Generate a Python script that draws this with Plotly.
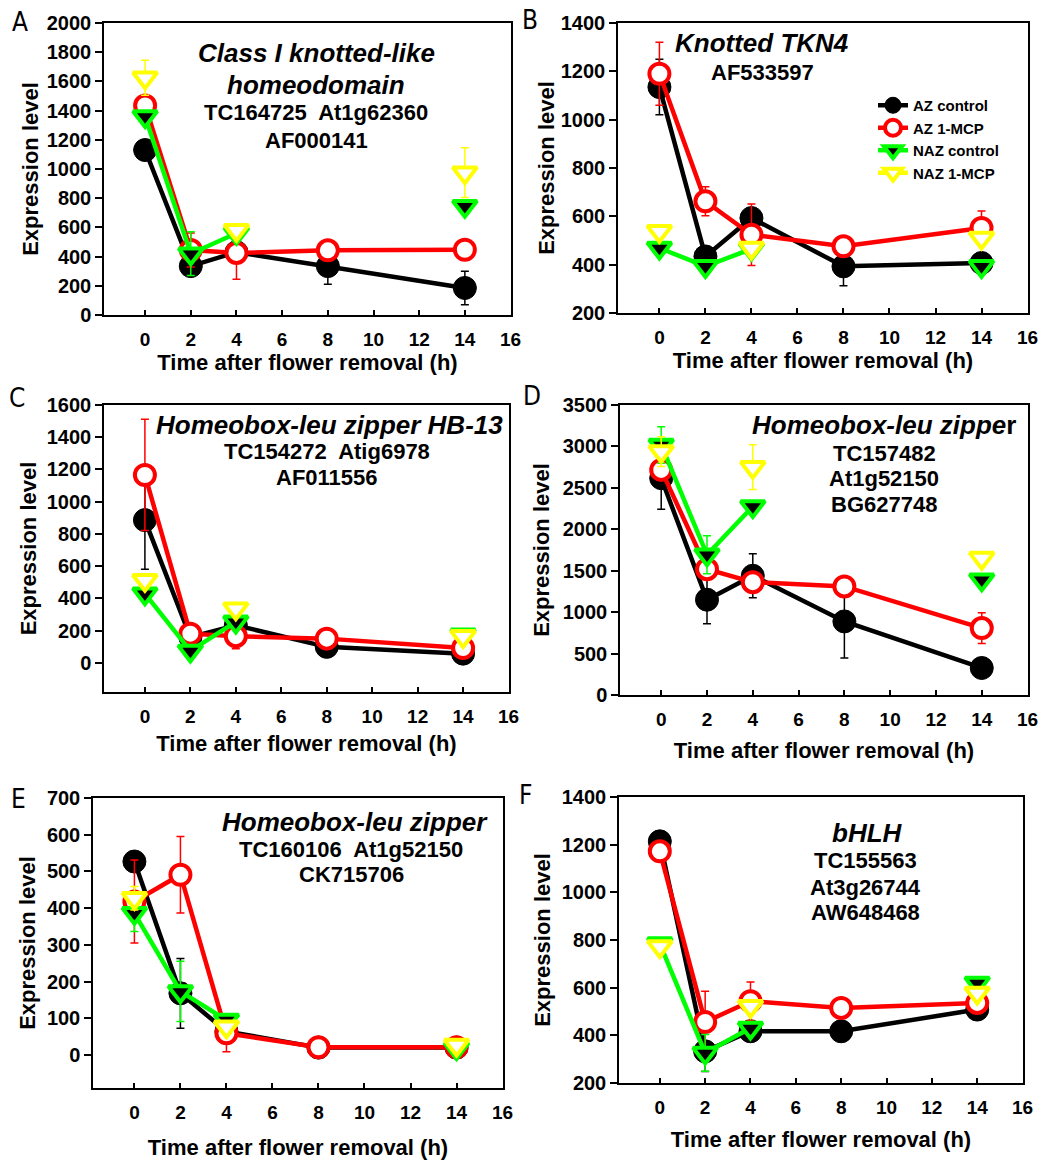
import plotly.graph_objects as go

W, H = 1049, 1160

hours = [0, 2, 4, 8, 14]
x_ticks = [0, 2, 4, 6, 8, 10, 12, 14, 16]

# ---- Panel A: Class I knotted-like homeodomain ----
a_az_control = [1130, 335, 430, 335, 185]
a_az_control_sd = [None, None, None, 125, 115]
a_az_mcp = [1435, 445, 425, 443, 447]
a_az_mcp_sd = [None, 117, 180, None, None]
a_naz_control = [1360, 420, 560, None, 745]
a_naz_control_sd = [None, 150, None, None, None]
a_naz_mcp = [1625, None, 580, None, 975]
a_naz_mcp_sd = [120, None, None, None, 170]

# ---- Panel B: Knotted TKN4 ----
b_az_control = [1135, 434, 593, 393, 407]
b_az_control_sd = [115, None, None, 80, None]
b_az_mcp = [1190, 662, 524, 476, 552]
b_az_mcp_sd = [130, 60, 127, None, 70]
b_naz_control = [469, 393, 465, None, 393]
b_naz_control_sd = [None, None, None, None, None]
b_naz_mcp = [538, None, 469, None, 510]
b_naz_mcp_sd = [None, None, None, None, None]

# ---- Panel C: Homeobox-leu zipper HB-13 ----
c_az_control = [886, 160, 234, 100, 58]
c_az_control_sd = [305, None, None, None, None]
c_az_mcp = [1166, 182, 166, 151, 93]
c_az_mcp_sd = [345, None, 77, None, None]
c_naz_control = [430, 75, 255, None, 175]
c_naz_control_sd = [None, None, None, None, None]
c_naz_mcp = [513, None, 337, None, 165]
c_naz_mcp_sd = [None, None, None, None, None]

# ---- Panel D: Homeobox-leu zipper (TC157482) ----
d_az_control = [2617, 1150, 1439, 888, 326]
d_az_control_sd = [375, 290, 265, 440, None]
d_az_mcp = [2717, 1519, 1362, 1310, 808]
d_az_mcp_sd = [None, None, None, None, 185]
d_naz_control = [3018, 1692, 2275, None, 1391]
d_naz_control_sd = [220, 230, None, None, None]
d_naz_mcp = [2938, None, 2749, None, 1652]
d_naz_mcp_sd = [180, None, 270, None, None]

# ---- Panel E: Homeobox-leu zipper (TC160106) ----
e_az_control = [527, 168, 64, 20, 20]
e_az_control_sd = [None, 95, None, None, None]
e_az_mcp = [418, 491, 59, 21, 21]
e_az_mcp_sd = [113, 104, 50, None, None]
e_naz_control = [386, 173, 95, None, 18]
e_naz_control_sd = [50, 82, None, None, None]
e_naz_mcp = [427, None, 77, None, 27]
e_naz_mcp_sd = [32, None, None, None, None]

# ---- Panel F: bHLH ----
f_az_control = [1214, 333, 417, 417, 508]
f_az_control_sd = [None, 85, None, None, None]
f_az_mcp = [1172, 456, 543, 515, 536]
f_az_mcp_sd = [None, 129, 81, None, None]
f_naz_control = [785, 326, 431, None, 620]
f_naz_control_sd = [None, 77, None, None, None]
f_naz_mcp = [773, None, 522, None, 578]
f_naz_mcp_sd = [None, None, None, None, None]

series_names = ["AZ control", "AZ 1-MCP", "NAZ control", "NAZ 1-MCP"]

y_ranges = {
    1: ([0, 2000], list(range(0, 2001, 200))),
    2: ([200, 1400], list(range(200, 1401, 200))),
    3: ([-180, 1600], list(range(0, 1601, 200))),
    4: ([0, 3500], list(range(0, 3501, 500))),
    5: ([-90, 700], list(range(0, 701, 100))),
    6: ([200, 1400], list(range(200, 1401, 200))),
}

panel_data = {
    1: [(a_az_control, a_az_control_sd), (a_az_mcp, a_az_mcp_sd),
        (a_naz_control, a_naz_control_sd), (a_naz_mcp, a_naz_mcp_sd)],
    2: [(b_az_control, b_az_control_sd), (b_az_mcp, b_az_mcp_sd),
        (b_naz_control, b_naz_control_sd), (b_naz_mcp, b_naz_mcp_sd)],
    3: [(c_az_control, c_az_control_sd), (c_az_mcp, c_az_mcp_sd),
        (c_naz_control, c_naz_control_sd), (c_naz_mcp, c_naz_mcp_sd)],
    4: [(d_az_control, d_az_control_sd), (d_az_mcp, d_az_mcp_sd),
        (d_naz_control, d_naz_control_sd), (d_naz_mcp, d_naz_mcp_sd)],
    5: [(e_az_control, e_az_control_sd), (e_az_mcp, e_az_mcp_sd),
        (e_naz_control, e_naz_control_sd), (e_naz_mcp, e_naz_mcp_sd)],
    6: [(f_az_control, f_az_control_sd), (f_az_mcp, f_az_mcp_sd),
        (f_naz_control, f_naz_control_sd), (f_naz_mcp, f_naz_mcp_sd)],
}

# plot frames in pixels: (left, right, top, bottom)
frames = {
    1: (104, 511, 23, 315),
    2: (618, 1028, 23, 313),
    3: (104, 509, 405, 692),
    4: (620, 1028, 405, 695),
    5: (93, 503, 798, 1088),
    6: (619, 1023, 797, 1083),
}
x_title_standoff = {1: 4, 2: 4, 3: 10, 4: 14, 5: 24, 6: 15}
y_title_standoff = {1: 2, 2: 0, 3: 4, 4: 7, 5: 5, 6: 5}

# marker / line styles for the four series
styles = [
    dict(symbol="circle", size=23, fill="black", edge="black", edge_w=1, line="black"),
    dict(symbol="circle", size=20, fill="white", edge="#ff0000", edge_w=4, line="#ff0000"),
    dict(symbol="triangle-down", size=21, fill="black", edge="#00ff00", edge_w=4, line="#00ff00"),
    dict(symbol="triangle-down", size=21, fill="white", edge="#ffff00", edge_w=4, line="#ffff00"),
]

FONT = "Liberation Sans, Arial, Helvetica, sans-serif"

fig = go.Figure()

for p in range(1, 7):
    xa = "x" if p == 1 else f"x{p}"
    ya = "y" if p == 1 else f"y{p}"
    for k, (vals, sd) in enumerate(panel_data[p]):
        st = styles[k]
        fig.add_trace(go.Scatter(
            x=hours, y=vals, xaxis=xa, yaxis=ya,
            mode="lines+markers", name=series_names[k],
            showlegend=(p == 1), legendgroup=series_names[k],
            connectgaps=False,
            line=dict(color=st["line"], width=4.5),
            marker=dict(symbol=st["symbol"], size=st["size"], color=st["fill"],
                        line=dict(color=st["edge"], width=st["edge_w"])),
            error_y=dict(type="data", array=sd, visible=True, color=st["line"],
                         thickness=1.5, width=4),
        ))

layout = dict(
    width=W, height=H, margin=dict(l=0, r=0, t=0, b=0),
    paper_bgcolor="white", plot_bgcolor="white",
    font=dict(family=FONT, color="black"),
    legend=dict(x=873 / W, y=1 - 89 / H, xanchor="left", yanchor="top",
                bgcolor="rgba(0,0,0,0)", font=dict(size=15, weight="bold"),
                tracegroupgap=0, itemwidth=30),
)

for p in range(1, 7):
    l, r, t, b = frames[p]
    sx = "" if p == 1 else str(p)
    yr, yt = y_ranges[p]
    layout[f"xaxis{sx}"] = dict(
        domain=[l / W, r / W], anchor=f"y{sx}", range=[-1.8, 16.02],
        tickvals=x_ticks, ticks="inside", ticklen=5, tickwidth=1.5,
        tickcolor="black", showline=True, mirror=True, linewidth=1.5,
        linecolor="black", showgrid=False, zeroline=False, automargin=False,
        tickfont=dict(size=19, weight="bold"), ticklabelstandoff=6,
        title=dict(text="Time after flower removal (h)",
                   font=dict(size=22, weight="bold"),
                   standoff=x_title_standoff[p]),
    )
    layout[f"yaxis{sx}"] = dict(
        domain=[1 - b / H, 1 - t / H], anchor=f"x{sx}", range=yr,
        tickvals=yt, ticks="outside", ticklen=7, tickwidth=1.5,
        tickcolor="black", showline=True, mirror=True, linewidth=1.5,
        linecolor="black", showgrid=False, zeroline=False, automargin=False,
        tickfont=dict(size=20, weight="bold"),
        title=dict(text="Expression level", font=dict(size=22, weight="bold"),
                   standoff=y_title_standoff[p]),
    )

fig.update_layout(**layout)


def note(text, px, py, size, italic=False, weight="bold", family=FONT):
    fig.add_annotation(
        text=text, x=px / W, y=1 - py / H, xref="paper", yref="paper",
        showarrow=False, xanchor="center", yanchor="middle",
        font=dict(size=size, family=family, weight=weight,
                  style="italic" if italic else "normal"),
    )


# gene names and identifiers inside each panel
note("Class I knotted-like", 316, 53, 26, italic=True)
note("homeodomain", 316, 85, 26, italic=True)
note("TC164725  At1g62360", 316, 113, 22)
note("AF000141", 316, 140, 22)

note("Knotted TKN4", 762, 43, 26, italic=True)
note("AF533597", 762, 72, 22)

note("Homeobox-leu zipper HB-13", 329, 425, 26, italic=True)
note("TC154272  Atig6978", 327, 451, 22)
note("AF011556", 327, 477, 22)

note("<i>Homeobox-leu zippe</i>r", 884, 425, 26)
note("TC157482", 884, 453, 22)
note("At1g52150", 884, 479, 22)
note("BG627748", 884, 505, 22)

note("Homeobox-leu zipper", 355, 822, 26, italic=True)
note("TC160106  At1g52150", 351, 849, 22)
note("CK715706", 351, 874, 22)

note("bHLH", 867, 833, 26, italic=True)
note("TC155563", 865, 860, 22)
note("At3g26744", 865, 887, 22)
note("AW648468", 865, 912, 22)

# panel letters
LETTER_FONT = "Liberation Sans Narrow, DejaVu Sans Condensed, DejaVu Sans, sans-serif"
for letter, px, py in [("A", 20, 22), ("B", 530, 20), ("C", 17, 398),
                       ("D", 532, 396), ("E", 18, 799), ("F", 525, 795)]:
    note(letter, px, py, 26, weight="normal", family=LETTER_FONT)

fig.write_html("out.html")
